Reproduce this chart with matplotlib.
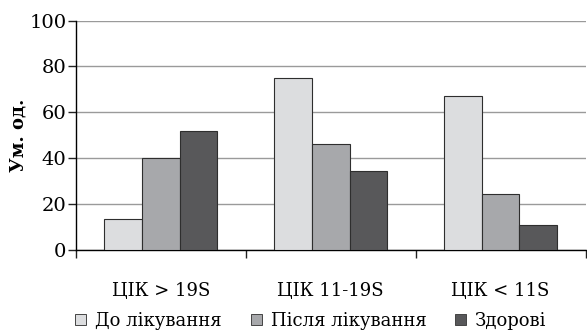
import numpy as np
import matplotlib
matplotlib.use("Agg")
import matplotlib.pyplot as plt
from matplotlib.patches import Patch

# Data
categories = ["ЦІК > 19S", "ЦІК 11-19S", "ЦІК < 11S"]
series_names = ["До лікування", "Після лікування", "Здорові"]
before = [13.5, 75, 67.2]
after = [40, 46, 24.4]
healthy = [52, 34.6, 10.7]
y_ticks = [0, 20, 40, 60, 80, 100]

colors = ["#dcdddf", "#a7a8ab", "#58585a"]
edge = "#2e2e2e"

plt.rcParams["font.family"] = ["DejaVu Serif"]

fig = plt.figure(figsize=(5.87, 3.34), dpi=100)
ax = fig.add_axes([0.1295, 0.2515, 0.868, 0.687])

x = np.arange(len(categories))
w = 0.222
for i, vals in enumerate([before, after, healthy]):
    ax.bar(x + (i - 1) * w, vals, width=w, color=colors[i],
           edgecolor=edge, linewidth=0.8, zorder=3)

ax.set_xlim(-0.5, 2.5)
ax.set_ylim(0, 100)
ax.set_yticks(y_ticks)
ax.yaxis.grid(True, color="#9a9a9a", linewidth=1.0, zorder=0)
ax.set_axisbelow(True)

ax.set_xticks(x)
ax.set_xticklabels(categories, fontsize=13)
ax.set_xticks([-0.5, 0.5, 1.5, 2.5], minor=True)
ax.tick_params(axis="x", which="major", length=0, pad=23)
ax.tick_params(axis="x", which="minor", length=6, width=1, direction="out", color="#222")
ax.tick_params(axis="y", length=6, width=1, pad=1, labelsize=14, color="#222")

for side in ["top", "right"]:
    ax.spines[side].set_visible(False)
ax.spines["left"].set_linewidth(1.0)
ax.spines["bottom"].set_linewidth(1.0)

ax.set_ylabel("Ум. од.", fontsize=13, fontweight="bold")
ax.yaxis.set_label_coords(-0.095, 0.5)

handles = [Patch(facecolor=c, edgecolor="#444", linewidth=0.7) for c in colors]
fig.legend(handles, series_names, loc="center", ncol=3, frameon=False,
           bbox_to_anchor=(0.53, 0.04), fontsize=13, handlelength=0.6,
           handleheight=0.6, handletextpad=0.5, columnspacing=1.6,
           borderpad=0, borderaxespad=0)

fig.savefig("out.png", dpi=100)
